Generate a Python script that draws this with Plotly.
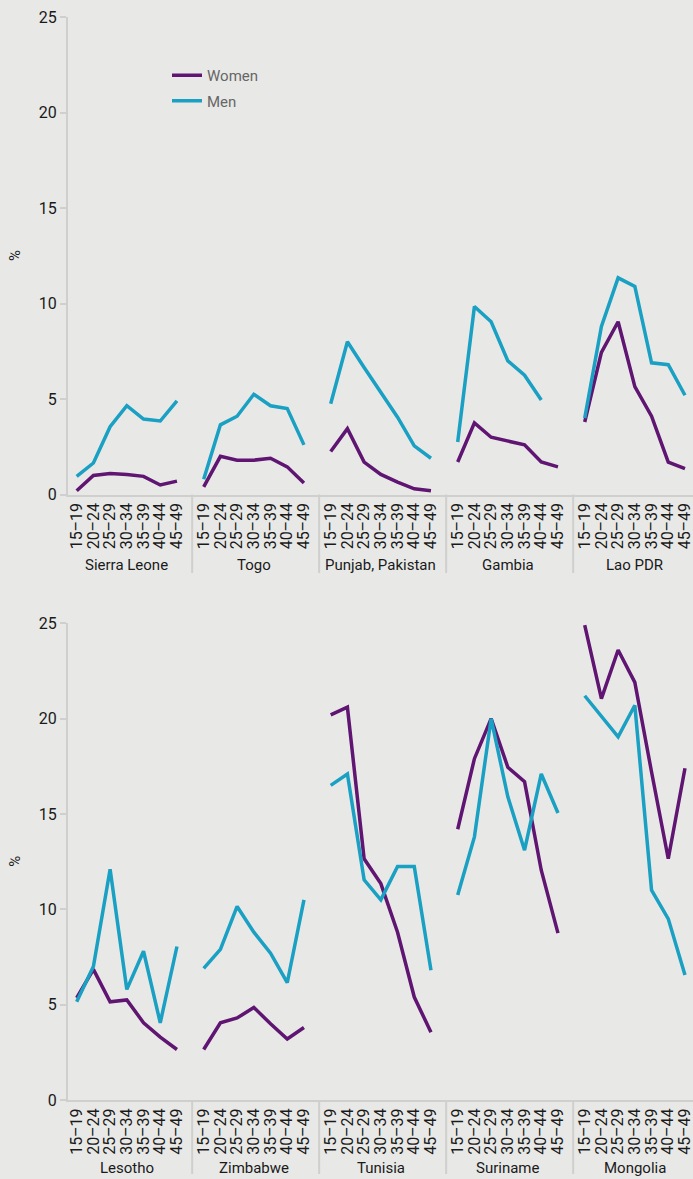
import plotly.graph_objects as go

ages = ["15–19", "20–24", "25–29", "30–34", "35–39", "40–44", "45–49"]

countries_top = ["Sierra Leone", "Togo", "Punjab, Pakistan", "Gambia", "Lao PDR"]
women_top = [
    [0.2, 1.0, 1.1, 1.05, 0.95, 0.5, 0.7],
    [0.4, 2.0, 1.8, 1.8, 1.9, 1.45, 0.6],
    [2.25, 3.45, 1.7, 1.05, 0.65, 0.3, 0.2],
    [1.7, 3.75, 3.0, 2.8, 2.6, 1.7, 1.45],
    [3.8, 7.45, 9.05, 5.65, 4.1, 1.7, 1.35],
]
men_top = [
    [0.95, 1.65, 3.55, 4.65, 3.95, 3.85, 4.9],
    [0.8, 3.65, 4.1, 5.25, 4.65, 4.5, 2.6],
    [4.75, 8.0, 6.65, 5.35, 4.05, 2.55, 1.9],
    [2.75, 9.85, 9.05, 7.0, 6.25, 4.95, None],
    [4.0, 8.8, 11.35, 10.9, 6.9, 6.8, 5.2],
]

countries_bottom = ["Lesotho", "Zimbabwe", "Tunisia", "Suriname", "Mongolia"]
women_bottom = [
    [5.35, 6.85, 5.15, 5.25, 4.05, 3.3, 2.65],
    [2.65, 4.05, 4.3, 4.85, 4.0, 3.2, 3.8],
    [20.2, 20.6, 12.65, 11.35, 8.8, 5.4, 3.55],
    [14.2, 17.9, 20.0, 17.45, 16.7, 12.05, 8.75],
    [24.9, 21.05, 23.6, 21.9, 17.2, 12.65, 17.4],
]
men_bottom = [
    [5.15, 7.0, 12.1, 5.8, 7.8, 4.05, 8.05],
    [6.9, 7.9, 10.15, 8.8, 7.7, 6.15, 10.5],
    [16.5, 17.1, 11.55, 10.5, 12.25, 12.25, 6.8],
    [10.75, 13.8, 20.0, 15.9, 13.1, 17.1, 15.05],
    [21.2, 20.1, 19.05, 20.7, 11.0, 9.5, 6.55],
]

y_ticks = [0, 5, 10, 15, 20, 25]

# ---- styling / layout constants ----
W, H = 693, 1179
ML = 68
PURPLE = "#5f1571"
CYAN = "#19a0c3"
BG = "#e8e9e7"
AXIS = "#cfd0ce"
FONT = "Roboto, Liberation Sans, sans-serif"
PERIOD = 7.6       # slots per country group
SEP_OFF = 0.69     # separator distance before first point of a group
X_RANGE = [-0.52, 36.88]


def py(p):
    return 1 - p / H


panels = [
    dict(countries=countries_top, women=women_top, men=men_top,
         dom=[py(494.5), py(17.3)], label_y=py(565), sep_y1=py(573)),
    dict(countries=countries_bottom, women=women_bottom, men=men_bottom,
         dom=[py(1100), py(623.3)], label_y=py(1168), sep_y1=py(1174)),
]

fig = go.Figure()
shapes, annotations = [], []

for k, p in enumerate(panels):
    xa = "x" if k == 0 else "x2"
    ya = "y" if k == 0 else "y2"
    n = len(p["countries"])
    xs, tickvals, ticktext = [], [], []
    for g in range(n):
        for i in range(len(ages)):
            xs.append(g * PERIOD + i)
            tickvals.append(g * PERIOD + i)
            ticktext.append(ages[i])
        xs.append(None)

    def flat(series):
        out = []
        for g in range(n):
            out.extend(series[g])
            out.append(None)
        return out

    fig.add_trace(go.Scatter(x=xs, y=flat(p["women"]), mode="lines", name="Women",
                             line=dict(color=PURPLE, width=3.5), legendgroup="w",
                             showlegend=(k == 0), connectgaps=False,
                             xaxis=xa, yaxis=ya))
    fig.add_trace(go.Scatter(x=xs, y=flat(p["men"]), mode="lines", name="Men",
                             line=dict(color=CYAN, width=3.5), legendgroup="m",
                             showlegend=(k == 0), connectgaps=False,
                             xaxis=xa, yaxis=ya))

    xkey = "xaxis" if k == 0 else "xaxis2"
    ykey = "yaxis" if k == 0 else "yaxis2"
    fig.update_layout(**{
        xkey: dict(domain=[0, 1], range=X_RANGE, anchor=ya, tickmode="array",
                   tickvals=tickvals, ticktext=ticktext, tickangle=-90,
                   showgrid=False, zeroline=False, showline=True, linecolor=AXIS,
                   linewidth=2, ticks="", automargin=False,
                   ticklabeloverflow="allow",
                   tickfont=dict(family=FONT, size=16, color="#1a1a1a")),
        ykey: dict(domain=p["dom"], range=[0, 25], anchor=xa, tickvals=y_ticks,
                   showgrid=False, zeroline=False, showline=True, linecolor=AXIS,
                   linewidth=2, ticks="outside", ticklen=6, tickcolor=AXIS,
                   tickwidth=2, automargin=False,
                   tickfont=dict(family=FONT, size=16, color="#1a1a1a")),
    })

    xref = "x" if k == 0 else "x2"
    for g in range(1, n):
        sx = g * PERIOD - SEP_OFF
        shapes.append(dict(type="line", xref=xref, yref="paper", x0=sx, x1=sx,
                           y0=p["dom"][0], y1=p["sep_y1"],
                           line=dict(color=AXIS, width=2)))
    for g, c in enumerate(p["countries"]):
        annotations.append(dict(text=c, xref=xref, yref="paper", x=g * PERIOD + 3,
                                y=p["label_y"], showarrow=False, yanchor="middle",
                                xanchor="center",
                                font=dict(family=FONT, size=15, color="#1a1a1a")))
    annotations.append(dict(text="%", xref="paper", yref="paper",
                            x=(15 - ML) / (W - ML), y=(p["dom"][0] + p["dom"][1]) / 2,
                            textangle=-90, showarrow=False, xanchor="center",
                            yanchor="middle",
                            font=dict(family=FONT, size=15, color="#1a1a1a")))

fig.update_layout(
    width=W, height=H,
    margin=dict(l=ML, r=0, t=0, b=0, pad=0),
    paper_bgcolor=BG, plot_bgcolor=BG,
    shapes=shapes, annotations=annotations,
    showlegend=True,
    legend=dict(x=(167 - ML) / (W - ML), y=py(59), xanchor="left", yanchor="top",
                bgcolor="rgba(0,0,0,0)", itemwidth=30, tracegroupgap=3,
                font=dict(family=FONT, size=15, color="#666666")),
)

fig.write_html("out.html",
               config={"displayModeBar": False},
               post_script="document.body.style.margin='0';"
                           "document.body.style.overflow='hidden';")
